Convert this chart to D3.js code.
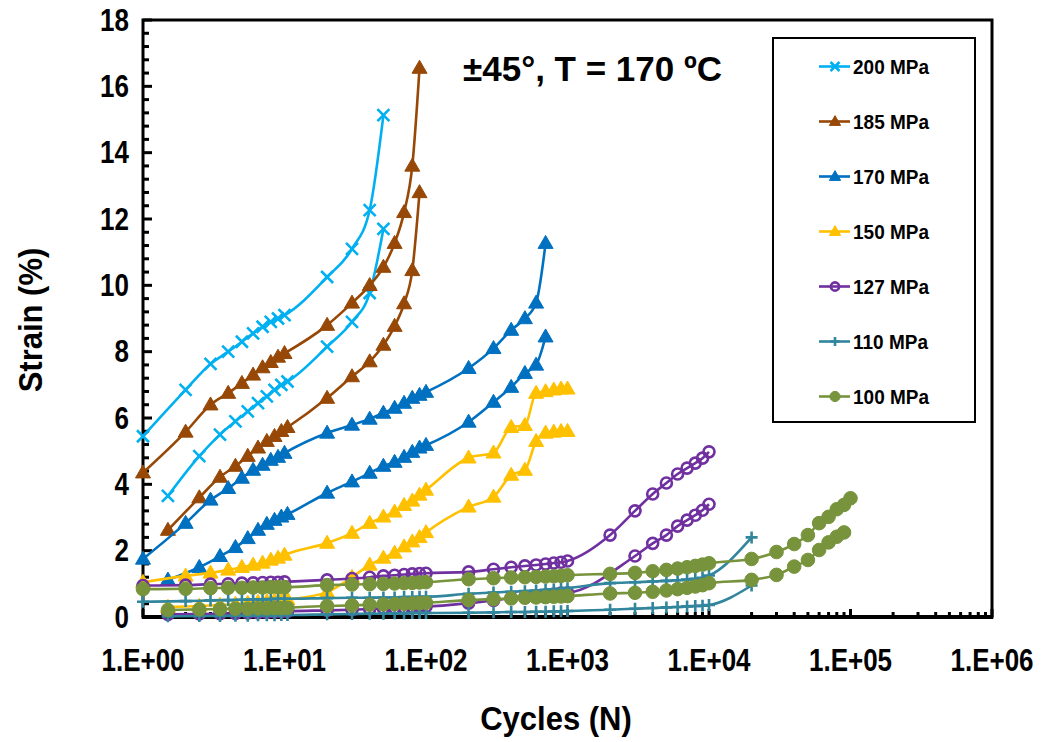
<!DOCTYPE html>
<html><head><meta charset="utf-8">
<script src="https://cdn.jsdelivr.net/npm/d3@7"></script>
<style>
body{margin:0;background:#fff}
text{font-family:Arial,"Liberation Sans",sans-serif;font-weight:bold;fill:#000}
</style>
</head><body><svg id="c" width="1044" height="742"></svg>
<script>
// ---------------- DATA ----------------
const legendLabels = ["200 MPa","185 MPa","170 MPa","150 MPa","127 MPa","110 MPa","100 MPa"];
const colors = ["#00B0F0","#974806","#0070C0","#FFC000","#7030A0","#31859C","#77933C"];
const xTickLabels = ["1.E+00","1.E+01","1.E+02","1.E+03","1.E+04","1.E+05","1.E+06"];
const yTickLabels = [0,2,4,6,8,10,12,14,16,18];
const titleText = "±45°, T = 170 ºC";

// 200 MPa
const n200a = [1,2,3,4,5,6,7,8,9,10,20,30,40,50];
const s200a = [5.45,6.85,7.63,8.0,8.3,8.55,8.75,8.9,9.0,9.1,10.25,11.1,12.27,15.13];
const n200b = [1.5,2.5,3.5,4.5,5.5,6.5,7.5,8.5,9.5,10.5,20,30,40,50];
const s200b = [3.65,4.85,5.5,5.9,6.2,6.45,6.65,6.85,7.0,7.1,8.15,8.9,9.77,11.7];
// 185 MPa
const n185a = [1,2,3,4,5,6,7,8,9,10,20,30,40,50,60,70,80,90];
const s185a = [4.35,5.58,6.4,6.75,7.05,7.3,7.52,7.68,7.84,7.95,8.8,9.47,10.0,10.55,11.27,12.2,13.6,16.55];
const n185b = [1.5,2.5,3.5,4.5,5.5,6.5,7.5,8.5,9.5,10.5,20,30,40,50,60,70,80,90];
const s185b = [2.62,3.6,4.22,4.55,4.85,5.1,5.3,5.45,5.6,5.72,6.6,7.25,7.7,8.2,8.77,9.45,10.45,12.8];
// 170 MPa
const n170a = [1,2,3,4,5,6,7,8,9,10,20,30,40,50,60,70,80,90,100,200,300,400,500,600,700];
const s170a = [1.75,2.83,3.53,3.88,4.19,4.43,4.58,4.73,4.82,4.94,5.55,5.79,5.97,6.15,6.3,6.45,6.6,6.69,6.78,7.5,8.1,8.65,9.0,9.47,11.27];
const n170b = [1.5,2.5,3.5,4.5,5.5,6.5,7.5,8.5,9.5,10.5,20,30,40,50,60,70,80,90,100,200,300,400,500,600,700];
const s170b = [1.12,1.5,1.83,2.1,2.37,2.62,2.8,2.92,3.02,3.1,3.74,4.08,4.34,4.55,4.67,4.82,4.97,5.1,5.18,5.88,6.48,6.93,7.35,7.6,8.45];
// 150 MPa
const n150a = [1,2,3,4,5,6,7,8,9,10,20,30,40,50,60,70,80,90,100,200,300,400,500,600,700,800,900,1000];
const s150a = [1.05,1.24,1.33,1.42,1.5,1.57,1.63,1.72,1.78,1.87,2.23,2.53,2.83,3.02,3.17,3.37,3.5,3.68,3.83,4.8,4.95,5.72,5.78,6.75,6.8,6.85,6.88,6.88];
const n150b = [1.5,2.5,3.5,4.5,5.5,6.5,7.5,8.5,9.5,10.5,20,30,40,50,60,70,80,90,100,200,300,400,500,600,700,800,900,1000];
const s150b = [0.3,0.33,0.36,0.39,0.42,0.45,0.47,0.49,0.51,0.53,0.75,1.2,1.57,1.78,1.93,2.12,2.27,2.4,2.55,3.32,3.62,4.28,4.43,5.3,5.55,5.58,5.6,5.6];
// 127 MPa
const n127a = [1,2,3,4,5,6,7,8,9,10,20,30,40,50,60,70,80,90,100,200,300,400,500,600,700,800,900,1000,2000,3000,4000,5000,6000,7000,8000,9000,10000];
const s127a = [0.95,0.96,0.99,1.0,1.02,1.03,1.04,1.05,1.05,1.06,1.12,1.16,1.2,1.24,1.26,1.28,1.3,1.31,1.32,1.36,1.44,1.5,1.54,1.57,1.6,1.63,1.65,1.69,2.47,3.2,3.71,4.04,4.31,4.49,4.64,4.79,4.98];
const n127b = [1.5,2.5,3.5,4.5,5.5,6.5,7.5,8.5,9.5,10.5,20,30,40,50,60,70,80,90,100,200,300,400,500,600,700,800,900,1000,3000,4000,5000,6000,7000,8000,9000,10000];
const s127b = [0.08,0.09,0.1,0.11,0.12,0.13,0.14,0.15,0.16,0.17,0.2,0.22,0.24,0.26,0.27,0.28,0.29,0.3,0.31,0.42,0.5,0.57,0.6,0.63,0.66,0.69,0.72,0.73,1.84,2.22,2.47,2.74,2.92,3.07,3.22,3.4];
// 110 MPa
const n110a = [1,2,3,4,5,6,7,8,9,10,20,30,40,50,60,70,80,90,100,200,300,400,500,600,700,800,900,1000,2000,3000,4000,5000,6000,7000,8000,9000,10000,20000];
const s110a = [0.46,0.48,0.5,0.51,0.52,0.53,0.53,0.54,0.55,0.55,0.57,0.58,0.58,0.59,0.59,0.6,0.6,0.61,0.61,0.7,0.74,0.76,0.78,0.8,0.82,0.83,0.85,0.87,1.02,1.05,1.07,1.09,1.11,1.13,1.15,1.18,1.25,2.4];
const n110b = [1.5,2.5,3.5,4.5,5.5,6.5,7.5,8.5,9.5,10.5,20,30,40,50,60,70,80,90,100,200,300,400,500,600,700,800,900,1000,2000,3000,4000,5000,6000,7000,8000,9000,10000,20000];
const s110b = [0.02,0.03,0.03,0.04,0.04,0.05,0.05,0.05,0.06,0.06,0.08,0.09,0.1,0.1,0.11,0.11,0.12,0.12,0.12,0.13,0.14,0.15,0.15,0.16,0.16,0.17,0.17,0.18,0.22,0.25,0.27,0.29,0.3,0.32,0.33,0.34,0.36,0.95];
// 100 MPa
const n100a = [1,2,3,4,5,6,7,8,9,10,20,30,40,50,60,70,80,90,100,200,300,400,500,600,700,800,900,1000,2000,3000,4000,5000,6000,7000,8000,9000,10000,20000,30000,40000,50000,60000,70000,80000,90000,100000];
const s100a = [0.84,0.85,0.87,0.88,0.88,0.89,0.89,0.9,0.9,0.9,0.96,0.98,0.99,1.0,1.01,1.02,1.03,1.04,1.05,1.14,1.17,1.19,1.2,1.21,1.22,1.23,1.24,1.26,1.3,1.33,1.38,1.42,1.46,1.5,1.54,1.58,1.62,1.75,1.96,2.2,2.47,2.83,3.02,3.25,3.38,3.58];
const n100b = [1.5,2.5,3.5,4.5,5.5,6.5,7.5,8.5,9.5,10.5,20,30,40,50,60,70,80,90,100,200,300,400,500,600,700,800,900,1000,2000,3000,4000,5000,6000,7000,8000,9000,10000,20000,30000,40000,50000,60000,70000,80000,90000];
const s100b = [0.21,0.23,0.24,0.25,0.25,0.26,0.26,0.27,0.27,0.28,0.33,0.35,0.37,0.38,0.39,0.4,0.41,0.42,0.43,0.51,0.54,0.56,0.58,0.59,0.6,0.61,0.62,0.63,0.71,0.73,0.76,0.8,0.84,0.88,0.92,0.96,1.02,1.12,1.27,1.52,1.72,2.02,2.25,2.42,2.55];

const seriesData = [
  [[n200a,s200a],[n200b,s200b]],
  [[n185a,s185a],[n185b,s185b]],
  [[n170a,s170a],[n170b,s170b]],
  [[n150a,s150a],[n150b,s150b]],
  [[n127a,s127a],[n127b,s127b]],
  [[n110a,s110a],[n110b,s110b]],
  [[n100a,s100a],[n100b,s100b]]
];
const markerTypes = ["x","tri","tri","tri","ocircle","plus","circle"];

// ---------------- CHART ----------------
const svg = d3.select("#c");
const L = 143, R = 992, T = 20, B = 617;
const x = d3.scaleLog().domain([1, 1e6]).range([L, R]);
const y = d3.scaleLinear().domain([0, 18]).range([B, T]);

const g = svg.append("g");
const yMinor = d3.range(0, 18.001, 0.4);
g.selectAll(".ym").data(yMinor).join("line")
  .attr("x1", L).attr("x2", d => (Math.abs(d/2 - Math.round(d/2)) < 1e-6) ? L + 9 : L + 6)
  .attr("y1", d => y(d)).attr("y2", d => y(d))
  .attr("stroke", "#000").attr("stroke-width", 3);

const xMinor = [];
for (let e = 0; e < 6; e++) for (let k = 1; k <= 9; k++) xMinor.push(k * Math.pow(10, e));
xMinor.push(1e6);
g.selectAll(".xm").data(xMinor).join("line")
  .attr("x1", d => x(d)).attr("x2", d => x(d))
  .attr("y1", B).attr("y2", d => (Math.abs(Math.log10(d) - Math.round(Math.log10(d))) < 1e-9) ? B - 8 : B - 5)
  .attr("stroke", "#000").attr("stroke-width", 3);

svg.append("rect").attr("x", L).attr("y", T).attr("width", R - L).attr("height", B - T)
  .attr("fill", "none").attr("stroke", "#000").attr("stroke-width", 3);
svg.append("line").attr("x1", L - 1).attr("x2", R + 1).attr("y1", B).attr("y2", B)
  .attr("stroke", "#000").attr("stroke-width", 4);

// tick labels (slightly tall glyphs, like the reference)
svg.selectAll(".yl").data(yTickLabels).join("text")
  .attr("transform", d => `translate(129,${y(d)}) scale(1,1.18)`)
  .attr("y", 9).attr("text-anchor", "end")
  .attr("font-size", 26).text(d => d);
svg.selectAll(".xl").data(xTickLabels).join("text")
  .attr("transform", (d, i) => `translate(${x(Math.pow(10, i))},660) scale(1,1.18)`)
  .attr("y", 9.3).attr("text-anchor", "middle")
  .attr("font-size", 26).text(d => d);

svg.append("text").attr("transform", "translate(556,718) scale(1,1.08)").attr("y", 11)
  .attr("text-anchor", "middle").attr("font-size", 31).text("Cycles (N)");
svg.append("text").attr("transform", "translate(30,320) rotate(-90) scale(1,1.08)").attr("y", 11)
  .attr("text-anchor", "middle").attr("font-size", 31).text("Strain (%)");

svg.append("text").attr("x", 463).attr("y", 81).attr("font-size", 35).text(titleText);

function drawMarker(sel, type, color, cx, cy, sc) {
  sc = sc || 1;
  if (type === "x") {
    const r = 6 * sc;
    sel.append("path").attr("d", `M${cx-r},${cy-r}L${cx+r},${cy+r}M${cx-r},${cy+r}L${cx+r},${cy-r}`)
      .attr("stroke", color).attr("stroke-width", 2.6).attr("fill", "none");
  } else if (type === "tri") {
    const w = 7.5 * sc, h = 13 * sc;
    sel.append("path").attr("d", `M${cx},${cy-h*0.6}L${cx+w},${cy+h*0.4}L${cx-w},${cy+h*0.4}Z`)
      .attr("fill", color).attr("stroke", color).attr("stroke-width", 1);
  } else if (type === "ocircle") {
    sel.append("circle").attr("cx", cx).attr("cy", cy).attr("r", 5.5 * sc)
      .attr("fill", "none").attr("stroke", color).attr("stroke-width", 2.6);
  } else if (type === "plus") {
    const r = 6 * sc;
    sel.append("path").attr("d", `M${cx-r},${cy}L${cx+r},${cy}M${cx},${cy-r}L${cx},${cy+r}`)
      .attr("stroke", color).attr("stroke-width", 2.6).attr("fill", "none");
  } else if (type === "circle") {
    sel.append("circle").attr("cx", cx).attr("cy", cy).attr("r", 6.8 * sc)
      .attr("fill", color).attr("stroke", color).attr("stroke-width", 1);
  }
}

const line = d3.line().x(d => x(d[0])).y(d => y(d[1])).curve(d3.curveMonotoneX);
const plot = svg.append("g");
seriesData.forEach((specs, i) => {
  const sg = plot.append("g");
  specs.forEach(([ns, ss]) => {
    const pts = ns.map((n, k) => [n, ss[k]]);
    sg.append("path").datum(pts).attr("d", line)
      .attr("fill", "none").attr("stroke", colors[i]).attr("stroke-width", 2.6);
    pts.forEach(p => drawMarker(sg, markerTypes[i], colors[i], x(p[0]), y(p[1])));
  });
});

const lg = svg.append("g");
lg.append("rect").attr("x", 773).attr("y", 38).attr("width", 202).attr("height", 384)
  .attr("fill", "#fff").attr("stroke", "#000").attr("stroke-width", 2);
legendLabels.forEach((lab, i) => {
  const cy = 66.5 + i * 55;
  lg.append("line").attr("x1", 819).attr("x2", 850).attr("y1", cy).attr("y2", cy)
    .attr("stroke", colors[i]).attr("stroke-width", 2.6);
  drawMarker(lg, markerTypes[i], colors[i], 835, cy, 0.75);
  lg.append("text").attr("transform", `translate(853,${cy}) scale(1,1.1)`).attr("y", 7)
    .attr("font-size", 19).text(lab);
});
</script></body></html>
